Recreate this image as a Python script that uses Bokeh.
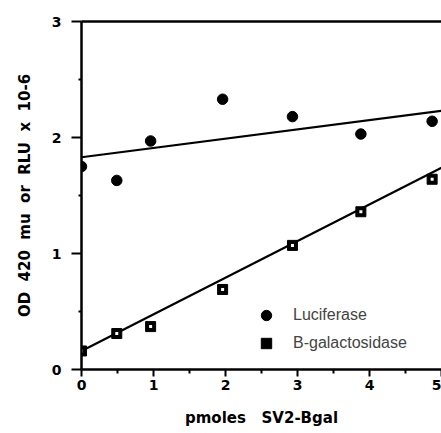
from bokeh.plotting import figure
from bokeh.models import Range1d, LinearAxis, FixedTicker, Legend, LegendItem
from bokeh.embed import file_html
from bokeh.resources import INLINE

# data
dose = [0.0, 0.49, 0.96, 1.96, 2.93, 3.88, 4.87]
luciferase = [1.75, 1.63, 1.97, 2.33, 2.18, 2.03, 2.14]
bgal = [0.16, 0.31, 0.37, 0.69, 1.07, 1.36, 1.64]
fit_x = [0.0, 5.0]
luc_fit = [1.83, 2.23]
bgal_fit = [0.16, 1.74]
x_ticks = [0, 1, 2, 3, 4, 5]
x_minor = [0.5, 1.5, 2.5, 3.5, 4.5]
y_ticks = [0, 1, 2, 3]
y_minor = [0.5, 1.5, 2.5]

NB = "\u00a0"
x_label = "pmoles" + NB * 3 + "SV2-Bgal"
y_label = (NB * 2).join(["OD", "420", "mu", "or", "RLU", "x", "10-6"])

LABEL_FONT = "DejaVu Sans"
LEGEND_FONT = "Liberation Sans"

p = figure(width=441, height=433, output_backend="svg", toolbar_location=None,
           x_range=Range1d(0, 5.0), y_range=Range1d(0, 3.0),
           x_axis_label=x_label, y_axis_label=y_label,
           min_border_left=81, min_border_right=0, min_border_top=21, min_border_bottom=64)
p.outline_line_color = None
p.grid.visible = False
p.background_fill_color = "white"
p.border_fill_color = "white"

for ax in (p.xaxis[0], p.yaxis[0]):
    ax.axis_line_width = 2.5
    ax.axis_line_color = "black"
    ax.major_tick_line_width = 2
    ax.minor_tick_line_width = 2
    ax.major_tick_in = 0
    ax.minor_tick_in = 0
    ax.major_label_text_font = LABEL_FONT
    ax.major_label_text_font_style = "bold"
    ax.major_label_text_font_size = "14px"
    ax.major_label_text_color = "black"
    ax.axis_label_text_font = LABEL_FONT
    ax.axis_label_text_font_style = "bold"
    ax.axis_label_text_color = "black"

p.xaxis[0].ticker = FixedTicker(ticks=x_ticks, minor_ticks=x_minor)
p.yaxis[0].ticker = FixedTicker(ticks=y_ticks, minor_ticks=y_minor)
p.xaxis[0].major_tick_out = 7
p.xaxis[0].minor_tick_out = 4
p.yaxis[0].major_tick_out = 10
p.yaxis[0].minor_tick_out = 3
p.xaxis[0].major_label_standoff = 3
p.yaxis[0].major_label_standoff = 10
p.xaxis[0].axis_label_text_font_size = "15px"
p.yaxis[0].axis_label_text_font_size = "15px"
p.xaxis[0].axis_label_standoff = 16
p.yaxis[0].axis_label_standoff = 15

top = LinearAxis(ticker=FixedTicker(ticks=[]), major_label_text_font_size="0px",
                 axis_line_width=2.5, axis_line_color="black")
p.add_layout(top, "above")

p.line(fit_x, luc_fit, line_color="black", line_width=2.2)
p.line(fit_x, bgal_fit, line_color="black", line_width=2.2)

r_luc = p.scatter(dose, luciferase, marker="circle", size=10.5, fill_color="black", line_color="black")
r_bgal = p.scatter(dose, bgal, marker="square", size=10, fill_color="black", line_color="black")
p.scatter(dose, bgal, marker="square", size=3, fill_color="white", line_color=None)

legend = Legend(items=[LegendItem(label="Luciferase", renderers=[r_luc]),
                       LegendItem(label="B-galactosidase", renderers=[r_bgal])],
                location=(172, 13), border_line_color=None, background_fill_alpha=0,
                label_text_font=LEGEND_FONT, label_text_font_size="16px", spacing=2,
                glyph_width=26, glyph_height=26, label_height=26,
                label_standoff=14, padding=0, margin=0)
p.add_layout(legend, "center")

open("out.html", "w").write(file_html(p, INLINE))
